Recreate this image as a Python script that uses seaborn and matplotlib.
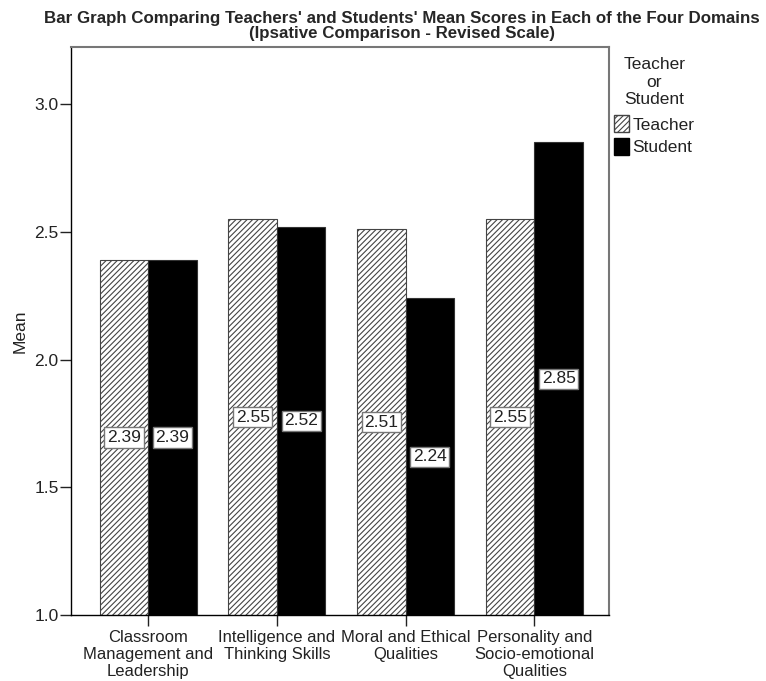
import matplotlib
matplotlib.use("Agg")
import matplotlib.pyplot as plt
import seaborn as sns
import pandas as pd
from matplotlib.patches import Patch

domains = [
    "Classroom\nManagement and\nLeadership",
    "Intelligence and\nThinking Skills",
    "Moral and Ethical\nQualities",
    "Personality and\nSocio-emotional\nQualities",
]
teacher_means = [2.39, 2.55, 2.51, 2.55]
student_means = [2.39, 2.52, 2.24, 2.85]
groups = ["Teacher", "Student"]
y_ticks = [1.0, 1.5, 2.0, 2.5, 3.0]

df = pd.DataFrame({
    "Domain": domains * 2,
    "Group": [groups[0]] * len(domains) + [groups[1]] * len(domains),
    "Mean": teacher_means + student_means,
})

sns.set_theme(style="white")
plt.rcParams["font.family"] = ["Liberation Sans", "DejaVu Sans"]
plt.rcParams["hatch.linewidth"] = 0.8
plt.rcParams["hatch.color"] = "#555555"

fig = plt.figure(figsize=(7.66, 6.81), dpi=100)
ax = fig.add_axes([0.0927, 0.0969, 0.7023, 0.834])

sns.barplot(data=df, x="Domain", y="Mean", hue="Group", order=domains,
            hue_order=groups, palette={"Teacher": "white", "Student": "black"},
            width=0.754, gap=0, errorbar=None, legend=False, ax=ax,
            edgecolor="#333333", linewidth=0.8)

for bar in ax.containers[0]:
    bar.set_hatch("//////")
    bar.set_edgecolor("#444444")

ax.set_ylim(1.0, 3.223)
ax.set_xlim(-0.6, 3.58)
ax.set_yticks(y_ticks)
ax.set_yticklabels([f"{t:.1f}" for t in y_ticks], fontsize=12.5, color="#333333")
ax.set_xticks(range(len(domains)))
ax.set_xticklabels(domains, fontsize=12, color="#222222", linespacing=1.15)
ax.set_xlabel("")
ax.set_ylabel("Mean", fontsize=12.5, color="#222222", labelpad=5)
ax.tick_params(axis="y", direction="out", length=8, width=1, colors="#222222",
               left=True, pad=1)
ax.tick_params(axis="x", direction="out", length=8, width=1, colors="#222222",
               bottom=True, pad=3)
for side in ["left", "bottom"]:
    ax.spines[side].set_color("black")
    ax.spines[side].set_linewidth(1)
for side in ["top", "right"]:
    ax.spines[side].set_color("#777777")
    ax.spines[side].set_linewidth(1.5)

# value labels in boxes at the vertical middle of each bar
for container, vals in zip(ax.containers, [teacher_means, student_means]):
    for bar, v in zip(container, vals):
        cx = bar.get_x() + bar.get_width() / 2
        cy = 1.0 + (v - 1.0) / 2
        ax.text(cx, cy, f"{v:.2f}", ha="center", va="center", fontsize=12.5,
                color="#222222",
                bbox=dict(boxstyle="square,pad=0.15", fc="white", ec="#777777", lw=1))

fig.suptitle("Bar Graph Comparing Teachers' and Students' Mean Scores in Each of the Four Domains\n"
             "(Ipsative Comparison - Revised Scale)",
             x=0.525, y=0.984, fontsize=12.2, fontweight="bold", linespacing=1.05)

handles = [Patch(facecolor="white", edgecolor="#444444", hatch="//////", label="Teacher"),
           Patch(facecolor="black", edgecolor="black", label="Student")]
leg = fig.legend(handles=handles, title="Teacher\nor\nStudent", loc="upper left",
                 bbox_to_anchor=(0.793, 0.926), frameon=False, fontsize=12.5,
                 title_fontsize=12.5, handlelength=0.85, handleheight=1.1,
                 handletextpad=0.2, labelspacing=0.3, borderaxespad=0)
leg.get_title().set_multialignment("center")
leg.get_title().set_linespacing(1.2)
leg.get_title().set_color("#222222")
leg._legend_box.sep = 6
for t in leg.get_texts():
    t.set_color("#222222")

fig.savefig("out.png", dpi=100)
